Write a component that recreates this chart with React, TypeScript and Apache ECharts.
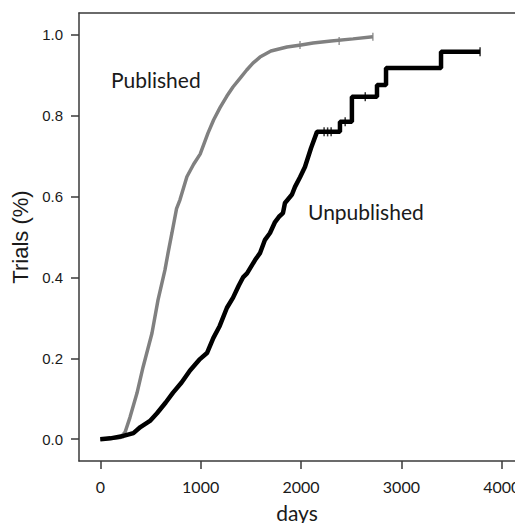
import React, { useEffect, useRef } from "react";
import * as echarts from "echarts";

const xTicks = [0, 1000, 2000, 3000, 4000];
const yTicks = [0, 0.2, 0.4, 0.6, 0.8, 1.0];

const publishedDays = [0, 120, 200, 247, 296, 366, 426, 515, 575, 644, 675, 714, 760, 794, 863, 930, 995, 1073, 1130, 1193, 1260, 1322, 1400, 1459, 1521, 1591, 1700, 1860, 2000, 2120, 2300, 2518, 2716];
const publishedSurv = [0, 0.002, 0.004, 0.017, 0.054, 0.114, 0.178, 0.262, 0.344, 0.418, 0.46, 0.51, 0.57, 0.592, 0.649, 0.68, 0.705, 0.757, 0.79, 0.82, 0.848, 0.871, 0.895, 0.913, 0.93, 0.945, 0.96, 0.97, 0.975, 0.98, 0.985, 0.99, 0.995];

const unpublishedDays = [0, 100, 230, 330, 400, 495, 565, 650, 725, 810, 894, 993, 1063, 1126, 1190, 1262, 1323, 1380, 1422, 1462, 1542, 1591, 1641, 1691, 1741, 1780, 1820, 1840, 1910, 1940, 1990, 2039, 2100, 2159, 2388, 2388, 2507, 2507, 2757, 2757, 2847, 2847, 3395, 3395, 3784];
const unpublishedSurv = [0, 0.002, 0.008, 0.015, 0.03, 0.045, 0.064, 0.09, 0.115, 0.14, 0.17, 0.198, 0.213, 0.25, 0.28, 0.325, 0.35, 0.38, 0.4, 0.41, 0.443, 0.46, 0.493, 0.51, 0.537, 0.55, 0.559, 0.584, 0.605, 0.624, 0.648, 0.673, 0.72, 0.76, 0.76, 0.785, 0.785, 0.847, 0.847, 0.876, 0.876, 0.918, 0.918, 0.958, 0.958];

const censorUnpubDays = [2230, 2265, 2300, 2440, 2640, 3784];
const censorUnpubSurv = [0.76, 0.76, 0.76, 0.785, 0.847, 0.958];
const censorPubDays = [1990, 2380, 2716];
const censorPubSurv = [0.975, 0.985, 0.995];

const zip = (a: number[], b: number[]) => a.map((v, i) => [v, b[i]]);

export default function App() {
  const ref = useRef<HTMLDivElement>(null);
  useEffect(() => {
    if (!ref.current) return;
    const chart = echarts.init(ref.current, undefined, { renderer: "svg" });
    const axisColor = "#3a3a3a";
    chart.setOption({
      animation: false,
      backgroundColor: "#ffffff",
      grid: { left: 79, right: 0, top: 13, bottom: 62, containLabel: false, outerBoundsMode: "none" },
      xAxis: [
        {
          type: "value",
          position: "bottom",
          min: -212,
          max: 4132,
          name: "days",
          nameLocation: "middle",
          nameGap: 41,
          nameTextStyle: { fontFamily: "Lato", fontSize: 21, color: "#1a1a1a" },
          axisLine: { show: true, onZero: false, lineStyle: { color: axisColor, width: 1.5 } },
          axisTick: { show: true, length: 8, customValues: xTicks, lineStyle: { color: axisColor, width: 1.5 } },
          axisLabel: {
            customValues: xTicks,
            margin: 17,
            fontFamily: "Lato",
            fontSize: 16,
            color: "#1a1a1a",
            formatter: (v: number) => String(v),
          },
          splitLine: { show: false },
        },
        {
          type: "value",
          position: "top",
          min: -212,
          max: 4132,
          axisLine: { show: true, onZero: false, lineStyle: { color: axisColor, width: 1.5 } },
          axisTick: { show: false },
          axisLabel: { show: false },
          splitLine: { show: false },
        },
      ],
      yAxis: {
        type: "value",
        min: -0.054,
        max: 1.054,
        name: "Trials (%)",
        nameLocation: "middle",
        nameGap: 46,
        nameRotate: 90,
        nameTextStyle: { fontFamily: "Liberation Sans", fontSize: 22, color: "#1a1a1a" },
        axisLine: { show: true, onZero: false, lineStyle: { color: axisColor, width: 1.5 } },
        axisTick: { show: true, length: 8, customValues: yTicks, lineStyle: { color: axisColor, width: 1.5 } },
        axisLabel: {
          customValues: yTicks,
          margin: 16,
          fontFamily: "Liberation Sans",
          fontSize: 15,
          color: "#1a1a1a",
          formatter: (v: number) => v.toFixed(1),
        },
        splitLine: { show: false },
      },
      series: [
        {
          type: "line",
          data: zip(publishedDays, publishedSurv),
          showSymbol: false,
          lineStyle: { color: "#808080", width: 3.5 },
          z: 2,
        },
        {
          type: "line",
          data: zip(unpublishedDays, unpublishedSurv),
          showSymbol: false,
          lineStyle: { color: "#000000", width: 4.5 },
          z: 3,
        },
        {
          type: "scatter",
          data: zip(censorUnpubDays, censorUnpubSurv),
          symbol: "rect",
          symbolSize: [1.5, 9],
          itemStyle: { color: "#000000" },
          z: 4,
        },
        {
          type: "scatter",
          data: zip(censorPubDays, censorPubSurv),
          symbol: "rect",
          symbolSize: [1.5, 8],
          itemStyle: { color: "#808080" },
          z: 4,
        },
      ],
      graphic: [
        {
          type: "text",
          left: 111,
          top: 69,
          style: { text: "Published", fontFamily: "Lato", fontSize: 21, fill: "#1a1a1a" },
        },
        {
          type: "text",
          left: 308,
          top: 201,
          style: { text: "Unpublished", fontFamily: "Lato", fontSize: 21, fill: "#1a1a1a" },
        },
      ],
    });
    return () => chart.dispose();
  }, []);
  return (
    <div
      ref={ref}
      style={{ position: "absolute", left: 0, top: 0, width: 515, height: 523 }}
    />
  );
}
